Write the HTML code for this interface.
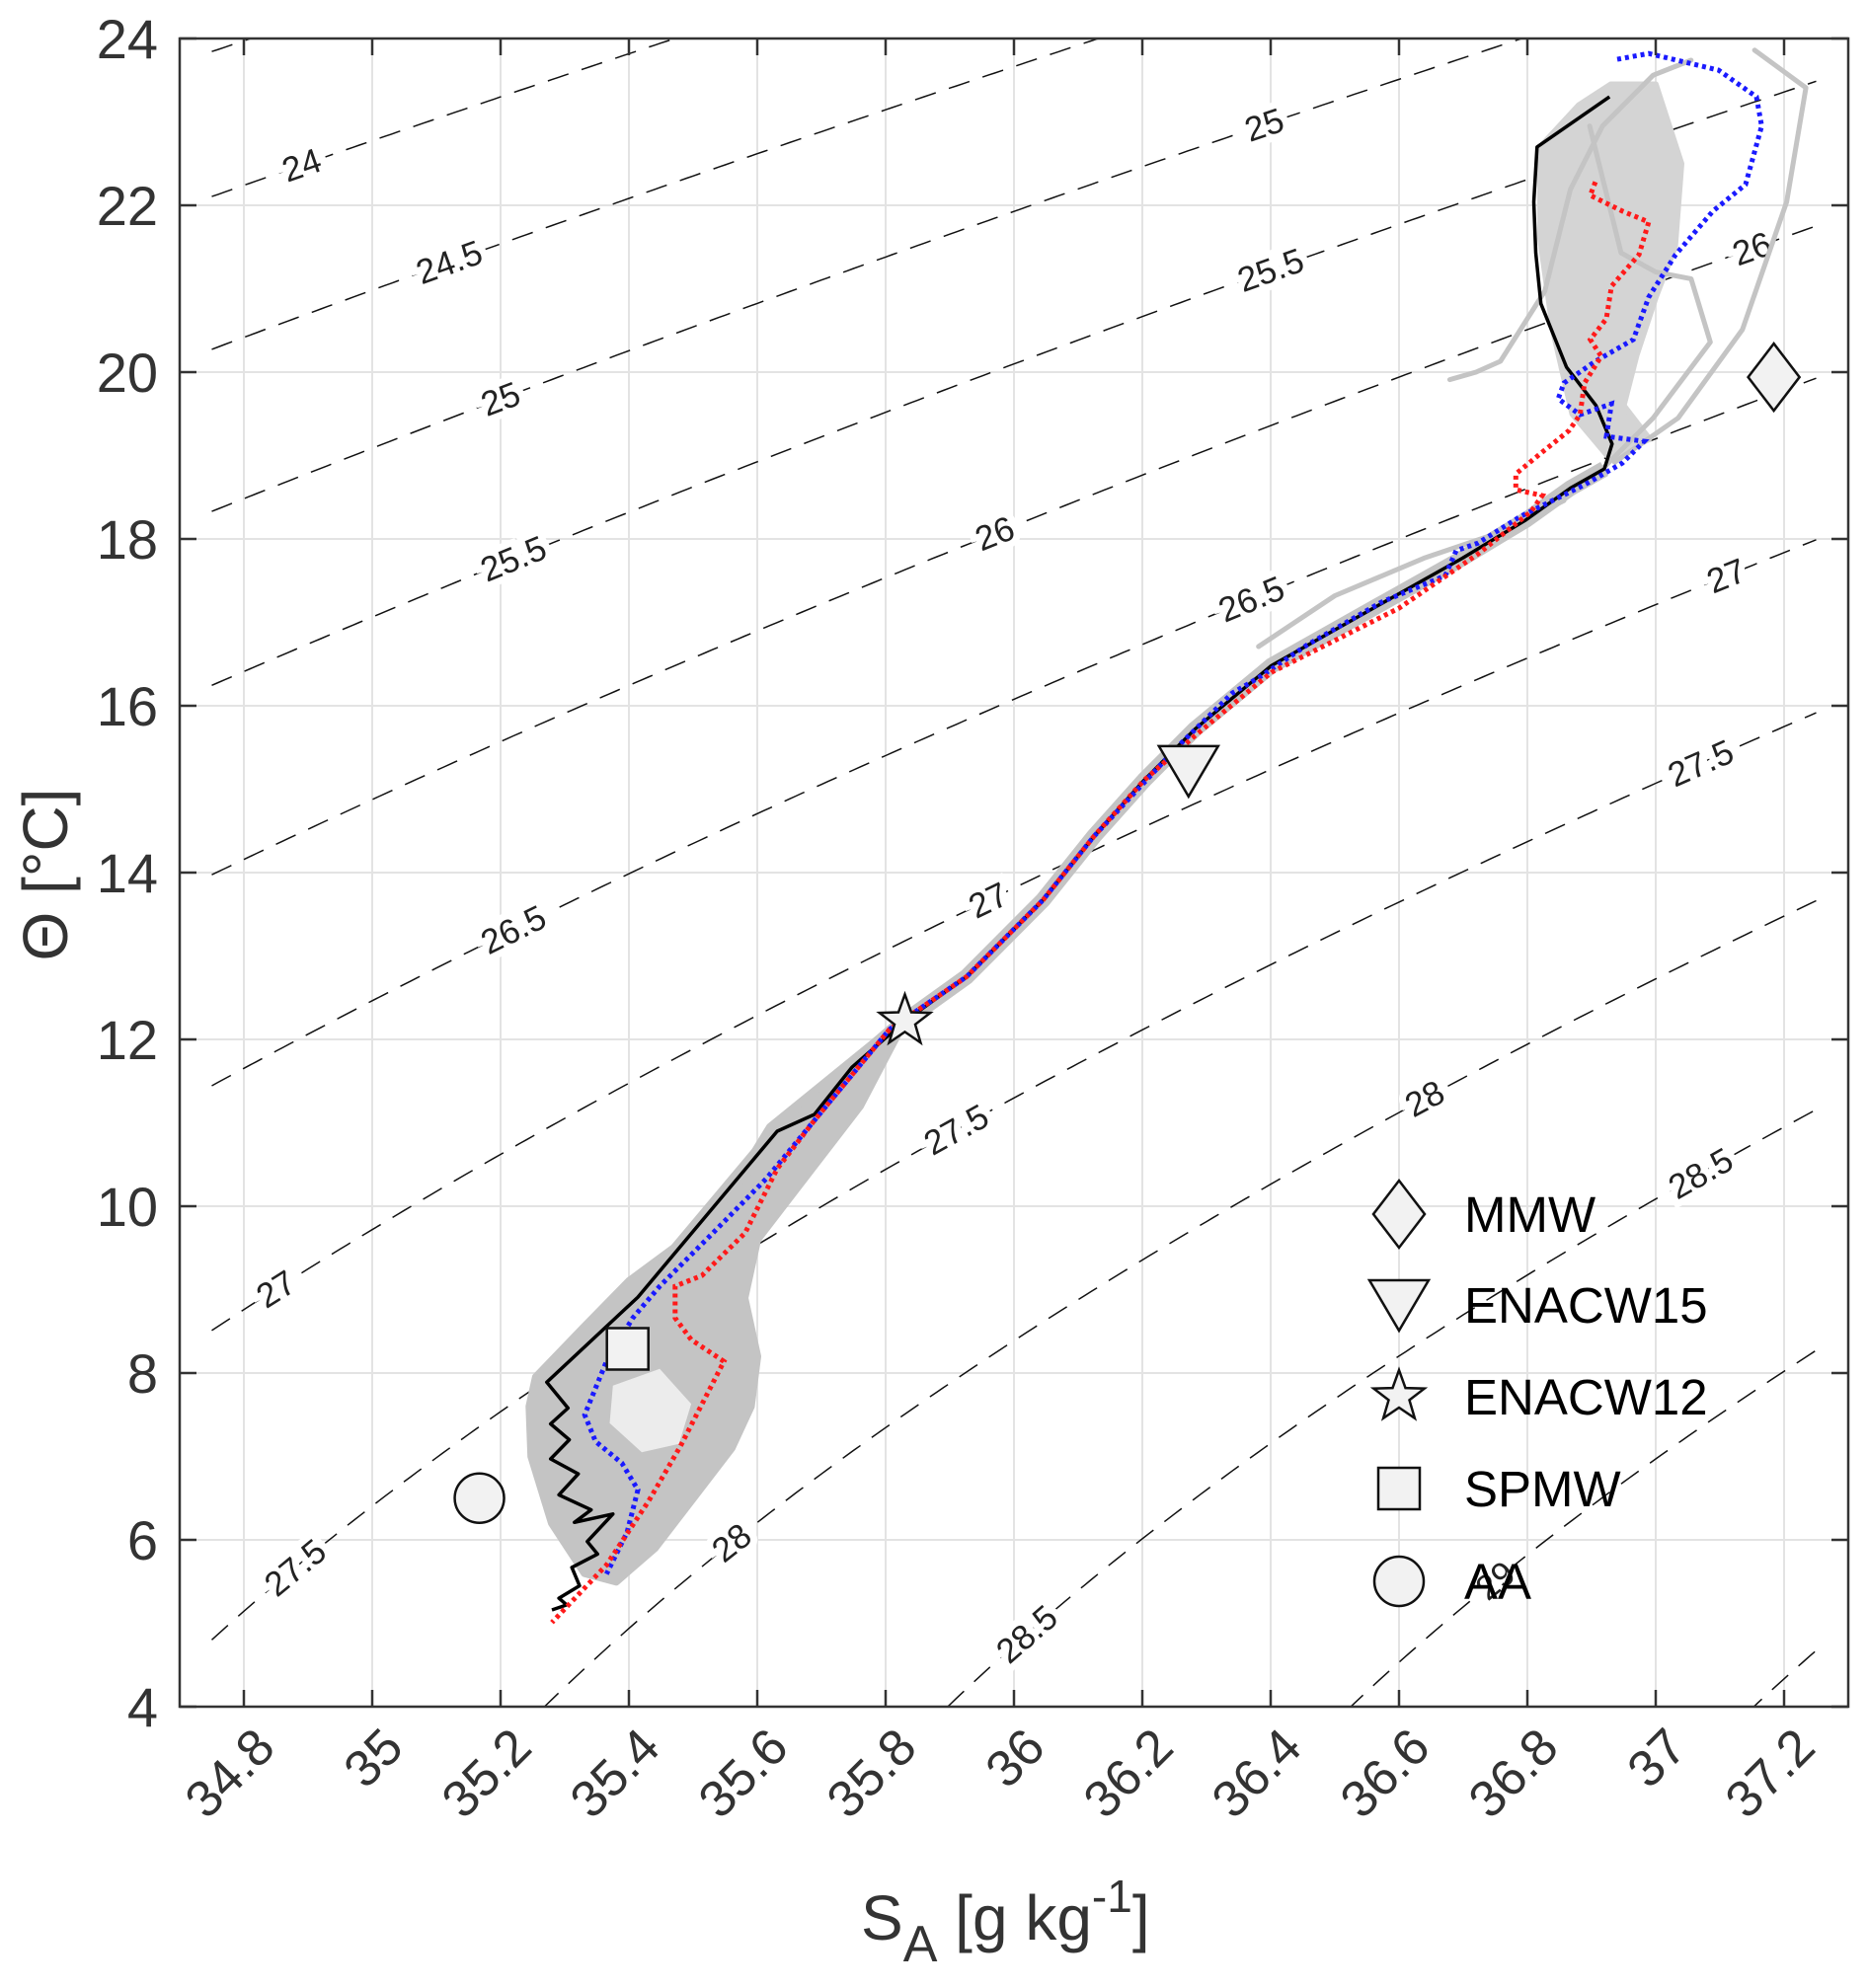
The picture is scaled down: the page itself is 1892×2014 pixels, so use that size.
<!DOCTYPE html>
<html><head><meta charset="utf-8"><style>
html,body{margin:0;padding:0;background:#fff;overflow:hidden;width:1892px;height:2014px;}
svg{display:block;position:absolute;left:0;top:0;font-family:"Liberation Sans",sans-serif;}
</style></head><body>
<svg id="chart" width="1892" height="2014" viewBox="0 0 1892 2014" xmlns="http://www.w3.org/2000/svg">
<defs><clipPath id="plotclip"><rect x="182" y="39" width="1690" height="1690"/></clipPath></defs>
<rect x="0" y="0" width="1892" height="2014" fill="#fff"/>
<g id="grid"></g>
<g id="contours" clip-path="url(#plotclip)"></g>
<g id="series" clip-path="url(#plotclip)"></g>
<g id="markers"></g>
<g id="axes"></g>
<g id="legend"></g>
</svg>
<script>
const xTicks=[34.8,35,35.2,35.4,35.6,35.8,36,36.2,36.4,36.6,36.8,37,37.2];
const xTickLabels=["34.8","35","35.2","35.4","35.6","35.8","36","36.2","36.4","36.6","36.8","37","37.2"];
const yTicks=[4,6,8,10,12,14,16,18,20,22,24];
const yTickLabels=["4","6","8","10","12","14","16","18","20","22","24"];
const sigmaLevels=[23.5,24,24.5,25,25.5,26,26.5,27,27.5,28,28.5,29,29.5];
const contourLabelLevels=[24,24.5,25,25.5,26,26.5,27,27.5,28,28.5,25,25.5,26,26.5,27,27.5,28,28.5,29,27,27.5];
const contourLabelSA=[34.89,35.12,35.20,35.22,35.97,35.22,34.85,34.88,35.56,36.02,36.39,36.40,37.15,36.37,35.96,35.91,36.64,37.07,36.75,37.11,37.07];
const blackSA=[36.928,36.815,36.810,36.813,36.821,36.861,36.907,36.932,36.920,36.867,36.798,36.699,36.560,36.401,36.282,36.203,36.124,36.045,35.926,35.830,35.748,35.689,35.631,35.414,35.272,35.305,35.278,35.307,35.278,35.321,35.291,35.341,35.315,35.375,35.335,35.351,35.311,35.323,35.291,35.303,35.280];
const blackT=[23.30,22.70,22.04,21.43,20.82,20.06,19.60,19.14,18.84,18.61,18.23,17.77,17.17,16.48,15.72,15.11,14.43,13.67,12.75,12.22,11.67,11.10,10.90,8.91,7.89,7.58,7.39,7.20,6.97,6.79,6.54,6.36,6.21,6.31,5.98,5.83,5.67,5.45,5.30,5.22,5.16];
const blueSA=[36.940,36.989,37.098,37.157,37.165,37.140,37.089,37.031,36.989,36.965,36.906,36.857,36.848,36.882,36.931,36.923,36.982,36.948,36.889,36.789,36.723,36.689,36.672,36.572,36.457,36.382,36.340,36.255,36.124,36.045,35.926,35.806,35.689,35.614,35.531,35.448,35.406,35.365,35.355,35.331,35.348,35.389,35.414,35.397,35.365];
const blueT=[23.75,23.82,23.62,23.30,22.95,22.25,21.93,21.41,20.90,20.39,20.13,19.87,19.68,19.49,19.62,19.23,19.17,18.91,18.65,18.27,17.95,17.86,17.56,17.24,16.73,16.34,16.15,15.51,14.43,13.67,12.75,12.12,11.03,10.33,9.68,9.04,8.66,8.14,7.95,7.50,7.18,6.92,6.60,6.09,5.59];
const redSA=[36.906,36.898,36.948,36.989,36.974,36.931,36.923,36.898,36.915,36.889,36.882,36.865,36.823,36.782,36.782,36.823,36.806,36.723,36.600,36.401,36.282,36.203,36.124,36.045,35.926,35.806,35.689,35.631,35.581,35.514,35.472,35.472,35.497,35.548,35.514,35.480,35.431,35.365,35.280];
const redT=[22.28,22.12,21.93,21.80,21.41,21.03,20.64,20.39,20.19,19.87,19.49,19.30,19.04,18.78,18.59,18.52,18.33,17.82,17.17,16.40,15.64,15.11,14.43,13.67,12.75,12.12,11.03,10.45,9.68,9.17,9.04,8.66,8.40,8.14,7.63,7.12,6.47,5.70,5.01];
const cloudSA=[35.255,35.330,35.400,35.470,35.540,35.620,35.700,35.780,35.835,35.760,35.660,35.600,35.580,35.600,35.590,35.560,35.500,35.440,35.380,35.331,35.280,35.248,35.245];
const cloudT=[7.95,8.55,9.10,9.50,9.95,10.95,11.45,11.95,12.30,11.20,10.20,9.60,8.90,8.20,7.60,7.10,6.50,5.90,5.50,5.60,6.20,7.00,7.60];
const holeSA=[35.375,35.448,35.497,35.478,35.420,35.370];
const holeT=[7.85,8.05,7.63,7.15,7.05,7.40];
const topCloudSA=[36.82,36.88,36.93,37.00,37.04,37.03,37.00,36.97,36.95,36.99,36.93,36.87,36.84,36.82];
const topCloudT=[22.70,23.20,23.45,23.45,22.50,21.50,20.90,20.20,19.60,19.20,18.95,19.50,20.50,21.60];
const grayProfilesSA=[
 [36.381,36.500,36.639,36.758,36.857],
 [36.679,36.720,36.758,36.827,36.867,36.917,36.996,37.055],
 [36.897,36.946,37.000,37.055,37.085,36.996,36.917],
 [37.154,37.234,37.204,37.135,37.035,36.936]
];
const grayProfilesT=[
 [16.71,17.32,17.77,18.08,18.46],
 [19.91,20.00,20.13,20.97,22.19,22.95,23.56,23.74],
 [22.95,21.43,21.20,21.12,20.36,19.45,18.84],
 [23.86,23.41,22.04,20.51,19.45,18.92]
];
const massNames=["MMW","ENACW15","ENACW12","SPMW","AA"];
const massSA=[37.184,36.272,35.830,35.398,35.167];
const massT=[19.94,15.22,12.22,8.29,6.50];
const massShapes=["diamond","triangle","star","square","circle"];

const NS="http://www.w3.org/2000/svg";
const X0=182,X1=1872,Y0=39,Y1=1729;
const sx=v=>247+(v-34.8)*650;
const sy=v=>39+(24-v)*84.5;
function el(tag,attrs,parent,text){const e=document.createElementNS(NS,tag);for(const k in attrs)e.setAttribute(k,attrs[k]);if(text!==undefined)e.textContent=text;parent.appendChild(e);return e;}
function rho(SA,T){const S=SA;
 const rw=999.842594+6.793952e-2*T-9.095290e-3*T*T+1.001685e-4*T**3-1.120083e-6*T**4+6.536332e-9*T**5;
 const A=8.24493e-1-4.0899e-3*T+7.6438e-5*T*T-8.2467e-7*T**3+5.3875e-9*T**4;
 const B=-5.72466e-3+1.0227e-4*T-1.6546e-6*T*T;
 return rw+A*S+B*Math.pow(S,1.5)+4.8314e-4*S*S;}
function tempFor(sig,SA){let lo=-5,hi=40;for(let i=0;i<50;i++){const m=(lo+hi)/2;if(rho(SA,m)-1000>sig)lo=m;else hi=m;}return (lo+hi)/2;}

const grid=document.getElementById('grid');
xTicks.forEach(v=>{const l=el('line',{x1:sx(v),x2:sx(v),y1:Y0,y2:Y1,stroke:'#e3e3e3','stroke-width':2},grid);

});
yTicks.forEach(v=>{const l=el('line',{x1:X0,x2:X1,y1:sy(v),y2:sy(v),stroke:'#e3e3e3','stroke-width':2},grid);

});

const cg=document.getElementById('contours');
sigmaLevels.forEach(s=>{let d='';for(let a=34.75;a<=37.2501;a+=0.01){const t=tempFor(s,a);d+=(d?'L':'M')+sx(a).toFixed(1)+','+sy(t).toFixed(1);}
 const p=el('path',{d:d,fill:'none',stroke:'#111','stroke-width':1.5,'stroke-dasharray':'22 14'},cg);
 
 });
contourLabelLevels.forEach((s,i)=>{const a=contourLabelSA[i];const t=tempFor(s,a);
 const x=sx(a),y=sy(t);const x2=sx(a+0.02),y2=sy(tempFor(s,a+0.02));
 const ang=Math.atan2(y2-y,x2-x)*180/Math.PI;
 const tx=el('text',{x:x,y:y+12,'text-anchor':'middle','font-size':35,fill:'#222',stroke:'#fff','stroke-width':14,'paint-order':'stroke',transform:`rotate(${ang.toFixed(1)} ${x} ${y})`},cg,String(s));
 
 });

const sg=document.getElementById('series');
function pts(A,B){return A.map((v,i)=>sx(v).toFixed(1)+','+sy(B[i]).toFixed(1)).join(' ');}
const tc=el('polygon',{points:pts(topCloudSA,topCloudT),fill:'#d4d4d4',stroke:'#d4d4d4','stroke-width':6,'stroke-linejoin':'round'},sg);


const cl=el('polygon',{points:pts(cloudSA,cloudT),fill:'#c4c4c4',stroke:'#c4c4c4','stroke-width':8,'stroke-linejoin':'round'},sg);


const ho=el('polygon',{points:pts(holeSA,holeT),fill:'#ececec',stroke:'none'},sg);


grayProfilesSA.forEach((arr,k)=>{const p=el('polyline',{points:pts(arr,grayProfilesT[k]),fill:'none',stroke:'#c4c4c4','stroke-width':5,'stroke-linejoin':'round','stroke-linecap':'round'},sg);
 
 });
const g2=el('polyline',{points:pts(blackSA.slice(8,24),blackT.slice(8,24)),fill:'none',stroke:'#c4c4c4','stroke-width':16,'stroke-linejoin':'round'},sg);


const bl=el('polyline',{points:pts(blackSA,blackT),fill:'none',stroke:'#000','stroke-width':3.5,'stroke-linejoin':'round'},sg);


const bu=el('polyline',{points:pts(blueSA,blueT),fill:'none',stroke:'#1a1aff','stroke-width':5,'stroke-dasharray':'4 4'},sg);


const rd=el('polyline',{points:pts(redSA,redT),fill:'none',stroke:'#ff1a1a','stroke-width':5,'stroke-dasharray':'4 4'},sg);



function marker(shape,x,y,par,nm){let e;const st={fill:'#f2f2f2',stroke:'#111','stroke-width':2.5};
 if(shape==='diamond')e=el('polygon',Object.assign({points:`${x},${y-34} ${x+26},${y} ${x},${y+34} ${x-26},${y}`},st),par);
 else if(shape==='triangle')e=el('polygon',Object.assign({points:`${x-30},${y-25} ${x+30},${y-25} ${x},${y+26}`},st),par);
 else if(shape==='star'){let p=[];for(let i=0;i<10;i++){const r=i%2?11:27;const a=-Math.PI/2+i*Math.PI/5;p.push((x+r*Math.cos(a)).toFixed(1)+','+(y+r*Math.sin(a)).toFixed(1));}e=el('polygon',Object.assign({points:p.join(' ')},st),par);}
 else if(shape==='square')e=el('rect',Object.assign({x:x-21,y:y-21,width:42,height:42},st),par);
 else e=el('circle',Object.assign({cx:x,cy:y,r:25},st),par);
 
 }
const mg=document.getElementById('markers');
massNames.forEach((n,i)=>marker(massShapes[i],sx(massSA[i]),sy(massT[i]),mg,'marker-'+n.toLowerCase()));

const ax=document.getElementById('axes');
const fr=el('rect',{x:X0,y:Y0,width:X1-X0,height:Y1-Y0,fill:'none',stroke:'#333','stroke-width':2.5},ax);


xTicks.forEach((v,i)=>{const x=sx(v);
 el('line',{x1:x,x2:x,y1:Y1,y2:Y1-17,stroke:'#333','stroke-width':2.5},ax);
 el('line',{x1:x,x2:x,y1:Y0,y2:Y0+17,stroke:'#333','stroke-width':2.5},ax);
 const t=el('text',{x:x+34,y:1773,'text-anchor':'end','font-size':52,fill:'#333',transform:`rotate(-45 ${x+34} 1773)`},ax,xTickLabels[i]);
 
 });
yTicks.forEach((v,i)=>{const y=sy(v);
 el('line',{x1:X0,x2:X0+17,y1:y,y2:y,stroke:'#333','stroke-width':2.5},ax);
 el('line',{x1:X1,x2:X1-17,y1:y,y2:y,stroke:'#333','stroke-width':2.5},ax);
 const t=el('text',{x:160,y:y+20,'text-anchor':'end','font-size':56,fill:'#333'},ax,yTickLabels[i]);
 
 });
const xl=el('text',{x:872,y:1965,'font-size':64,fill:'#333'},ax);


xl.innerHTML='S<tspan font-size="52" dy="22">A</tspan><tspan dy="-22"> [g kg</tspan><tspan font-size="46" dy="-28">-1</tspan><tspan dy="28">]</tspan>';
const yl=el('text',{x:68,y:886,'font-size':64,fill:'#333','text-anchor':'middle',transform:'rotate(-90 68 886)'},ax,'Θ [°C]');



const lg=document.getElementById('legend');
const legY=[1230,1322,1415,1508,1602];
massNames.forEach((n,i)=>{marker(massShapes[i],1417,legY[i],lg,'legend-marker-'+n.toLowerCase());
 const t=el('text',{x:1483,y:legY[i]+18,'font-size':51,fill:'#000'},lg,n);
 
 });
</script>
</body></html>
